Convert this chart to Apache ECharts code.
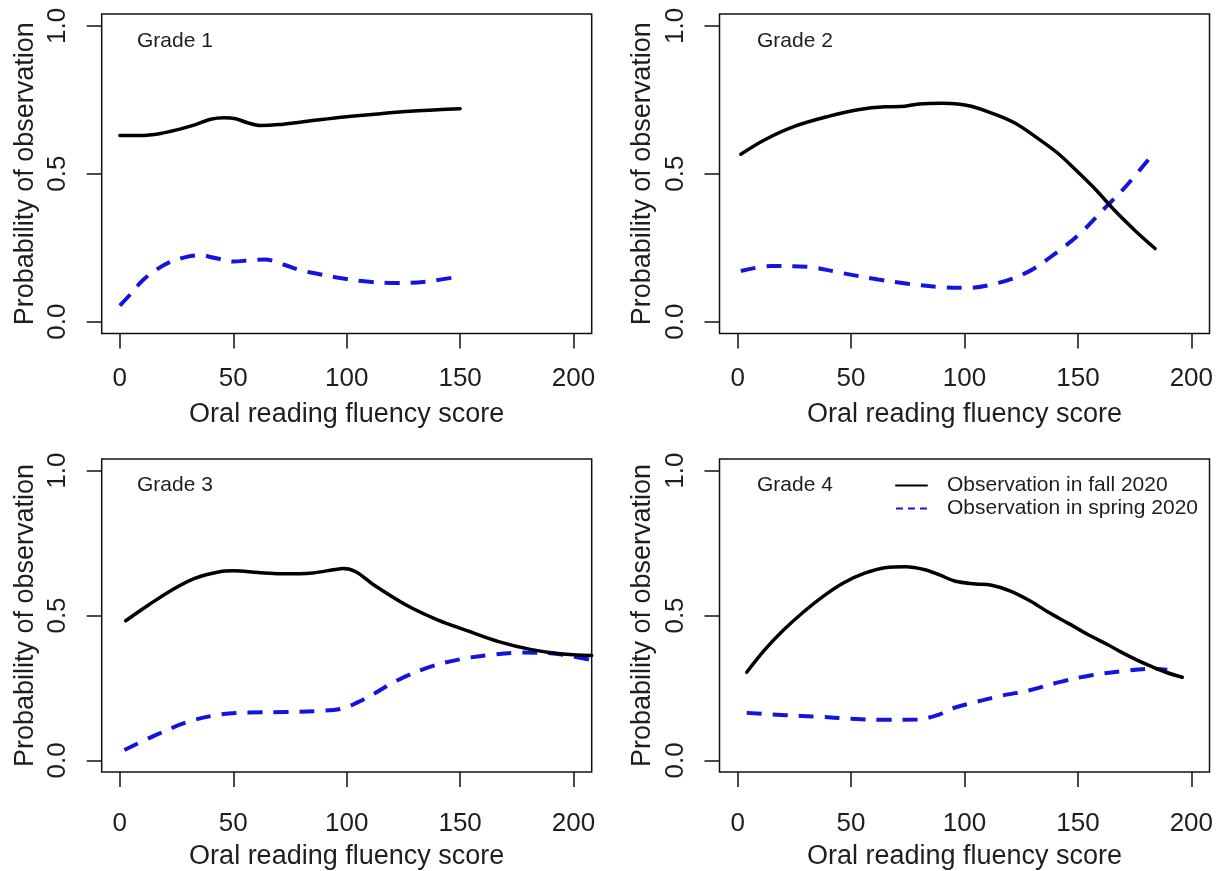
<!DOCTYPE html>
<html>
<head>
<meta charset="utf-8">
<script src="https://cdn.jsdelivr.net/npm/echarts@6/dist/echarts.min.js"></script>
<style>
html,body{margin:0;padding:0;background:#fff;}
#chart{width:1218px;height:871px;}
</style>
</head>
<body>
<div id="chart"></div>
<script>
// ---- data ----
const xTickValues = [0, 50, 100, 150, 200];
const yTickValues = [0, 0.5, 1.0];
const gradeLabels = ['Grade 1', 'Grade 2', 'Grade 3', 'Grade 4'];
const seriesNames = ['Observation in fall 2020', 'Observation in spring 2020'];
const xAxisTitle = 'Oral reading fluency score';
const yAxisTitle = 'Probability of observation';

const g1Fall = [[0,0.629],[9,0.629],[18,0.636],[26,0.650],[33,0.665],[40,0.684],[46,0.689],[51,0.686],[56,0.673],[62,0.663],[70,0.666],[80,0.675],[90,0.684],[102,0.694],[115,0.703],[128,0.711],[140,0.716],[150,0.720]];
const g1Spring = [[0,0.054],[5,0.095],[10,0.139],[16,0.175],[22,0.201],[29,0.218],[35,0.224],[42,0.215],[50,0.203],[57,0.207],[64,0.210],[72,0.193],[80,0.173],[88,0.160],[95,0.150],[108,0.136],[122,0.130],[136,0.136],[150,0.153]];

const g2Fall = [[1.4,0.566],[12,0.615],[25,0.660],[40,0.694],[53,0.716],[65,0.726],[72,0.727],[80,0.736],[90,0.738],[97,0.736],[103,0.728],[112,0.705],[122,0.672],[132,0.621],[141,0.570],[149,0.513],[158,0.445],[166,0.377],[175,0.309],[184,0.247]];
const g2Spring = [[1.4,0.171],[15,0.188],[31,0.185],[46,0.164],[62,0.142],[75,0.128],[89,0.117],[101,0.114],[115,0.131],[128,0.168],[140,0.230],[151,0.298],[161,0.377],[171,0.456],[183,0.566]];

const g3Fall = [[2.6,0.482],[12.8,0.537],[23,0.588],[33,0.628],[44,0.651],[50,0.654],[61,0.648],[71,0.644],[85,0.647],[95,0.659],[98.5,0.662],[104,0.651],[112,0.605],[126,0.537],[140,0.485],[153,0.448],[167,0.410],[181,0.383],[194,0.368],[208,0.362]];
const g3Spring = [[2,0.036],[16,0.088],[30,0.133],[44,0.158],[57,0.165],[73,0.167],[88,0.171],[98,0.179],[105,0.201],[112,0.230],[122,0.275],[136,0.321],[150,0.349],[163,0.364],[177,0.372],[191,0.369],[201,0.357],[208,0.346]];

const g4Fall = [[4,0.304],[12,0.382],[20,0.448],[29,0.512],[38,0.568],[47,0.614],[56,0.646],[65,0.665],[74,0.668],[82.5,0.658],[89,0.640],[96,0.618],[105,0.609],[111.5,0.605],[120,0.585],[129,0.550],[137,0.511],[146,0.472],[154,0.436],[163,0.400],[171,0.366],[180,0.332],[188.5,0.305],[196,0.287]];
const g4Spring = [[4,0.164],[21,0.156],[35,0.151],[50,0.144],[64,0.140],[79,0.141],[89,0.159],[94.4,0.179],[104.7,0.201],[116.7,0.224],[128.7,0.242],[142.3,0.271],[156,0.294],[169.7,0.308],[183.4,0.316],[189.4,0.313]];

const fallData = [g1Fall, g2Fall, g3Fall, g4Fall];
const springData = [g1Spring, g2Spring, g3Spring, g4Spring];

// ---- layout ----
const FONT = '"Liberation Sans", Arial, sans-serif';
const TXT = '#1e1e1e';
const BLUE = '#1414dc';
const gridBoxes = [
  {left: 101.7, top: 14, width: 490, height: 319.4},
  {left: 719.5, top: 14, width: 490, height: 319.4},
  {left: 101.7, top: 459, width: 490, height: 316.7},
  {left: 719.5, top: 459, width: 490, height: 316.7}
];
const titlePos = [
  {left: 137, top: 31},
  {left: 757, top: 31},
  {left: 137, top: 475},
  {left: 757, top: 475}
];
const xLabelMargin = [32, 32, 39, 39];
const xNameGap = [68, 68, 71, 71];

const grids = [], xAxes = [], yAxes = [], series = [], titles = [];
for (let i = 0; i < 4; i++) {
  grids.push(Object.assign({show: true, borderColor: '#111', borderWidth: 1.5, backgroundColor: 'transparent', containLabel: false}, gridBoxes[i]));
  xAxes.push({
    type: 'value', gridIndex: i, min: -8, max: 208,
    axisLine: {show: false, onZero: false},
    splitLine: {show: false},
    axisTick: {show: true, inside: false, customValues: xTickValues, length: 15, lineStyle: {color: '#111', width: 1.5}},
    axisLabel: {customValues: xTickValues, fontSize: 26, fontFamily: FONT, color: TXT, margin: xLabelMargin[i],
      formatter: v => String(v)},
    name: xAxisTitle, nameLocation: 'middle', nameGap: xNameGap[i],
    nameTextStyle: {fontSize: 27, fontFamily: FONT, color: TXT}
  });
  yAxes.push({
    type: 'value', gridIndex: i, min: -0.04, max: 1.04,
    axisLine: {show: false, onZero: false},
    splitLine: {show: false},
    axisTick: {show: true, inside: false, customValues: yTickValues, length: 15, lineStyle: {color: '#111', width: 1.5}},
    axisLabel: {customValues: yTickValues, fontSize: 26, fontFamily: FONT, color: TXT, margin: 31, rotate: 90,
      formatter: v => v.toFixed(1)},
    name: yAxisTitle, nameLocation: 'middle', nameGap: 63, nameRotate: 90,
    nameTextStyle: {fontSize: 27, fontFamily: FONT, color: TXT}
  });
  titles.push(Object.assign({text: gradeLabels[i], padding: 0,
    textStyle: {fontSize: 21, fontWeight: 'normal', fontFamily: FONT, color: TXT}}, titlePos[i]));
  series.push({
    name: seriesNames[0], type: 'line', xAxisIndex: i, yAxisIndex: i,
    data: fallData[i], showSymbol: false, symbol: 'none', smooth: 0.35,
    lineStyle: {color: '#000', width: 3.5, cap: 'round'}, itemStyle: {color: '#000'},
    clip: true, animation: false, z: 3
  });
  series.push({
    name: seriesNames[1], type: 'line', xAxisIndex: i, yAxisIndex: i,
    data: springData[i], showSymbol: false, symbol: 'none', smooth: 0.35,
    lineStyle: {color: BLUE, width: 4, type: [15, 11], cap: 'butt'}, itemStyle: {color: BLUE},
    clip: true, animation: false, z: 2
  });
}

const chart = echarts.init(document.getElementById('chart'), null, {renderer: 'canvas'});
chart.setOption({
  backgroundColor: '#fff',
  animation: false,
  title: titles,
  grid: grids,
  xAxis: xAxes,
  yAxis: yAxes,
  legend: {
    left: 895, top: 475, orient: 'vertical', padding: 0, itemGap: 2,
    itemWidth: 31, itemHeight: 14,
    selectedMode: false,
    textStyle: {fontSize: 21, fontFamily: FONT, color: TXT, padding: [0, 0, 0, 15]},
    data: [
      {name: seriesNames[0], itemStyle: {opacity: 0, color: 'rgba(0,0,0,0)', borderWidth: 0},
        lineStyle: {width: 2, color: '#000', opacity: 1}},
      {name: seriesNames[1], itemStyle: {opacity: 0, color: 'rgba(0,0,0,0)', borderWidth: 0},
        lineStyle: {width: 2, color: BLUE, type: [7, 5], opacity: 1}}
    ]
  },
  series: series
});
</script>
</body>
</html>
